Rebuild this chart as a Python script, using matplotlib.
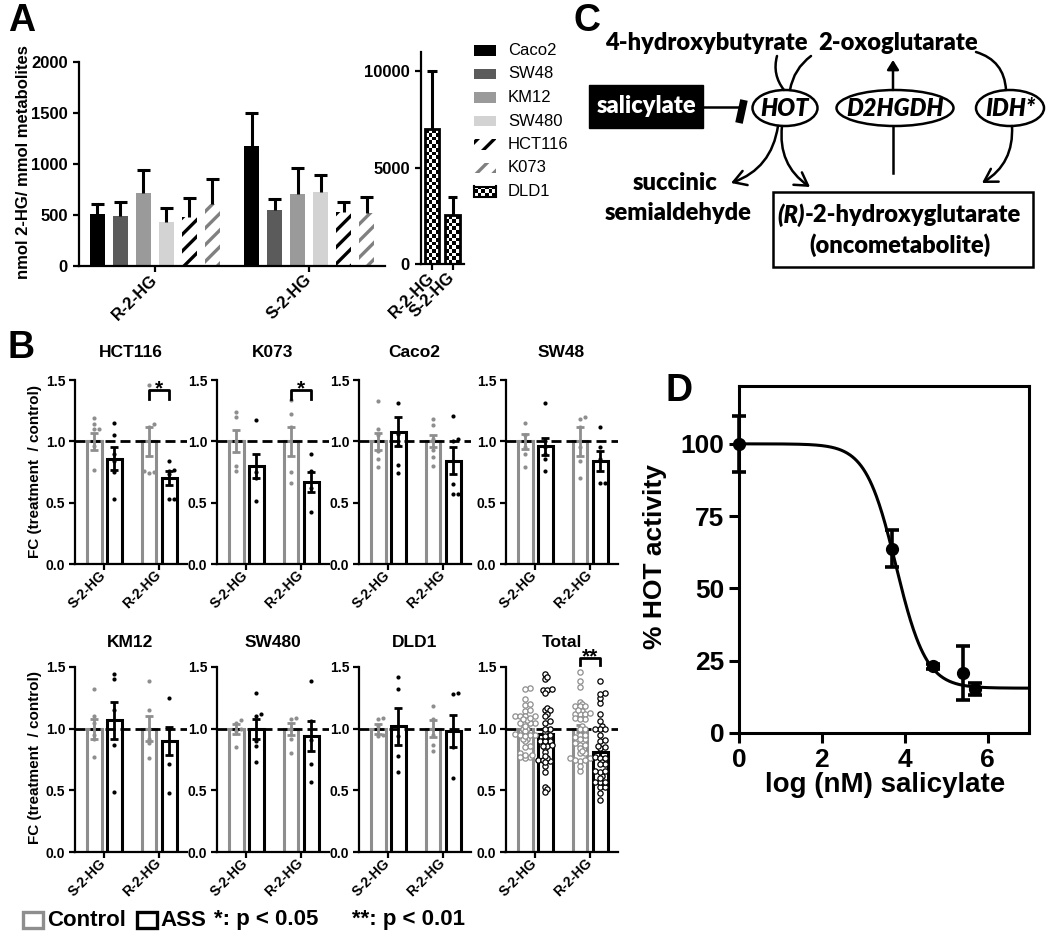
"""Four-panel figure: 2-HG levels, FC per cell line, HOT pathway, salicylate dose response."""

import numpy as np
import matplotlib

matplotlib.use("Agg")
import matplotlib.pyplot as plt
from matplotlib.patches import Rectangle, Ellipse, FancyArrowPatch

plt.rcParams["font.family"] = ["Liberation Sans", "DejaVu Sans"]
plt.rcParams["font.weight"] = "bold"
plt.rcParams["hatch.linewidth"] = 2.4

W, H = 1050, 935

# ---------------- panel A data ----------------
A_LINES = ["Caco2", "SW48", "KM12", "SW480", "HCT116", "K073"]
A_GROUPS = ["R-2-HG", "S-2-HG"]
A_R_MEAN = [513, 493, 716, 435, 480, 605]
A_R_SEM = [92, 131, 222, 134, 183, 251]
A_S_MEAN = [1173, 552, 703, 728, 529, 516]
A_S_SEM = [330, 108, 255, 164, 101, 157]
A_FILL = ["#000000", "#5b5b5b", "#9a9a9a", "#d3d3d3", "white", "white"]
A_HATCH = [None, None, None, None, "//", "//"]
A_HATCH_COLOR = [None, None, None, None, "#000000", "#808080"]

DLD1_GROUPS = ["R-2-HG", "S-2-HG"]
DLD1_MEAN = [7000, 2520]
DLD1_SEM = [3000, 980]

# ---------------- panel B data ----------------
B_LINES = ["HCT116", "K073", "Caco2", "SW48", "KM12", "SW480", "DLD1"]
B_GROUPS = ["S-2-HG", "R-2-HG"]
CTRL_S_MEAN = [1.00, 1.00, 1.00, 1.00, 1.00, 1.00, 1.00]
CTRL_S_SEM = [0.07, 0.09, 0.07, 0.06, 0.08, 0.04, 0.04]
ASS_S_MEAN = [0.86, 0.80, 1.08, 0.96, 1.07, 1.00, 1.02]
ASS_S_SEM = [0.09, 0.10, 0.12, 0.07, 0.15, 0.08, 0.15]
CTRL_R_MEAN = [1.00, 1.00, 1.00, 1.00, 1.00, 1.00, 1.00]
CTRL_R_SEM = [0.12, 0.12, 0.05, 0.12, 0.10, 0.05, 0.07]
ASS_R_MEAN = [0.70, 0.67, 0.84, 0.84, 0.90, 0.94, 0.98]
ASS_R_SEM = [0.06, 0.08, 0.11, 0.08, 0.11, 0.12, 0.13]

CTRL_S_DOTS = {
    "HCT116": [1.19, 1.14, 1.10, 1.10, 0.96, 0.77],
    "K073": [1.24, 1.20, 1.00, 0.80, 0.76],
    "Caco2": [1.33, 1.10, 1.05, 0.92, 0.86, 0.79],
    "SW48": [1.15, 1.05, 0.95, 0.90, 0.79],
    "KM12": [1.32, 1.10, 1.05, 0.95, 0.92, 0.77],
    "SW480": [1.07, 1.05, 1.00, 0.98, 0.85],
    "DLD1": [1.09, 1.08, 1.02, 0.95, 0.94],
}
ASS_S_DOTS = {
    "HCT116": [1.15, 1.05, 0.90, 0.84, 0.75, 0.53],
    "K073": [1.17, 0.75, 0.70, 0.51],
    "Caco2": [1.31, 1.06, 1.00, 0.97, 0.81, 0.74],
    "SW48": [1.31, 1.00, 0.95, 0.90, 0.86, 0.76],
    "KM12": [1.44, 1.40, 1.15, 0.87, 0.49],
    "SW480": [1.29, 1.12, 1.10, 0.90, 0.86, 0.73],
    "DLD1": [1.42, 1.32, 0.94, 0.78, 0.65],
}
CTRL_R_DOTS = {
    "HCT116": [1.46, 1.14, 1.12, 0.76, 0.74, 0.75],
    "K073": [1.34, 1.22, 1.12, 0.75, 0.66],
    "Caco2": [1.18, 1.13, 1.02, 0.93, 0.87, 0.80],
    "SW48": [1.20, 1.18, 1.12, 0.95, 0.84, 0.70],
    "KM12": [1.39, 1.15, 1.00, 0.92, 0.88, 0.76],
    "SW480": [1.09, 1.08, 1.00, 0.92, 0.80],
    "DLD1": [1.18, 1.08, 0.95, 0.87, 0.82],
}
ASS_R_DOTS = {
    "HCT116": [0.84, 0.77, 0.76, 0.73, 0.53, 0.53],
    "K073": [0.90, 0.76, 0.62, 0.42],
    "Caco2": [1.21, 1.02, 1.00, 0.65, 0.57, 0.57],
    "SW48": [1.12, 0.95, 0.86, 0.66, 0.66],
    "KM12": [1.25, 1.00, 0.71, 0.48],
    "SW480": [1.39, 1.06, 0.91, 0.71, 0.57],
    "DLD1": [1.29, 1.28, 1.00, 0.85, 0.60],
}
TOTAL_MEAN = [1.00, 0.96, 1.00, 0.81]   # ctrl S, ASS S, ctrl R, ASS R
TOTAL_SEM = [0.025, 0.04, 0.03, 0.04]
SIG_MARKS = {"HCT116": "*", "K073": "*", "Total": "**"}

# ---------------- panel D data ----------------
D_LOGC = [0.0, 3.69, 4.69, 5.40, 5.70]
D_ACT = [100.0, 63.8, 23.0, 20.7, 15.2]
D_SEM = [9.7, 6.4, 0.8, 9.3, 2.1]
FIT_TOP, FIT_BOTTOM, FIT_LOGIC50, FIT_HILL = 100.0, 15.5, 3.79, 1.19

CTRL_GRAY = "#8e8e8e"

fig = plt.figure(figsize=(W / 100, H / 100), dpi=100)


def axes_px(left, top, right, bottom):
    return fig.add_axes([left / W, 1 - bottom / H, (right - left) / W, (bottom - top) / H])


def fig_text(x, y, s, **kw):
    return fig.text(x / W, 1 - y / H, s, **kw)


def open_axes(ax, lw=1.6, size=10, pad=3.5):
    for side in ("top", "right"):
        ax.spines[side].set_visible(False)
    for side in ("left", "bottom"):
        ax.spines[side].set_linewidth(lw)
    ax.tick_params(width=lw, length=4.5, labelsize=size, pad=pad)
    for lab in ax.get_yticklabels():
        lab.set_fontweight("bold")


def up_errorbar(ax, xs, means, sems, cap_half, lw=2.2):
    xs = np.asarray(xs, dtype=float)
    tops = np.asarray(means, dtype=float) + np.asarray(sems, dtype=float)
    ax.vlines(xs, means, tops, color="black", lw=lw, zorder=3)
    ax.hlines(tops, xs - cap_half, xs + cap_half, color="black", lw=lw, zorder=3)


def checker(nrow, ncol):
    return np.add.outer(np.arange(nrow), np.arange(ncol)) % 2


def swarm(values_px, d, step):
    """Horizontal offsets (px) so dots of diameter d do not overlap."""
    values_px = np.asarray(values_px, dtype=float)
    offs = np.zeros(len(values_px))
    placed = []
    for idx in np.argsort(values_px):
        y = values_px[idx]
        for k in range(60):
            m = (k + 1) // 2
            cand = m * step * (1 if k % 2 else -1)
            if all((cand - px) ** 2 + (y - py) ** 2 >= d * d for px, py in placed):
                break
        offs[idx] = cand
        placed.append((cand, y))
    return offs


# ======================= panel A =======================
A_GROUP_X = [0.0, 6.7]
A_BAR_W = 0.65
axA = axes_px(79, 62, 385, 266)
for i, name in enumerate(A_LINES):
    xs = [g + i - 2.5 for g in A_GROUP_X]
    means = [A_R_MEAN[i], A_S_MEAN[i]]
    sems = [A_R_SEM[i], A_S_SEM[i]]
    if A_HATCH[i]:
        axA.bar(xs, means, A_BAR_W, facecolor="white", edgecolor=A_HATCH_COLOR[i],
                hatch=A_HATCH[i], linewidth=0, zorder=2)
    else:
        axA.bar(xs, means, A_BAR_W, color=A_FILL[i], linewidth=0, zorder=2)
    up_errorbar(axA, xs, means, sems, cap_half=0.27)
axA.set_xlim(-3.3, 10.0)
axA.set_ylim(0, 2000)
axA.set_yticks([0, 500, 1000, 1500, 2000])
axA.set_xticks(A_GROUP_X)
axA.set_xticklabels(A_GROUPS, rotation=45, ha="right", va="center",
                    rotation_mode="anchor", fontsize=10.5, fontweight="bold")
open_axes(axA, size=12)

axA2 = axes_px(421, 52, 464, 264)
DLD1_X = [0.0, 1.0]
D_BAR_W = 0.73
for x, h in zip(DLD1_X, DLD1_MEAN):
    nrow = int(round(h / 195))
    axA2.imshow(checker(nrow, 4), cmap="gray_r", vmin=0, vmax=1, origin="lower",
                extent=(x - D_BAR_W / 2, x + D_BAR_W / 2, 0, h), aspect="auto",
                interpolation="nearest", zorder=1)
axA2.bar(DLD1_X, DLD1_MEAN, D_BAR_W, facecolor="none", edgecolor="black", linewidth=2, zorder=2)
up_errorbar(axA2, DLD1_X, DLD1_MEAN, DLD1_SEM, cap_half=0.24)
axA2.set_xlim(-0.537, 1.56)
axA2.set_ylim(0, 11000)
axA2.set_yticks([0, 5000, 10000])
axA2.set_xticks(DLD1_X)
axA2.set_xticklabels(DLD1_GROUPS, rotation=45, ha="right", va="center",
                     rotation_mode="anchor", fontsize=10.5, fontweight="bold")
open_axes(axA2, size=12)

# legend for A
for i, name in enumerate(A_LINES + ["DLD1"]):
    yc = 50.5 + 23.5 * i
    if name == "DLD1":
        lax = axes_px(474, yc - 5, 496, yc + 5)
        lax.imshow(checker(3, 6), cmap="gray_r", vmin=0, vmax=1, aspect="auto",
                   interpolation="nearest")
        lax.set_xticks([])
        lax.set_yticks([])
        for sp in lax.spines.values():
            sp.set_linewidth(1.5)
    else:
        kw = dict(facecolor=A_FILL[i], edgecolor="none", linewidth=0)
        if A_HATCH[i]:
            kw = dict(facecolor="white", edgecolor=A_HATCH_COLOR[i], hatch=A_HATCH[i], linewidth=0)
        fig.add_artist(Rectangle((474 / W, 1 - (yc + 5) / H), 22 / W, 10 / H,
                                 transform=fig.transFigure, **kw))
    fig_text(508, yc, name, fontsize=12, fontweight="normal", va="center", ha="left")

fig_text(24, 162, "nmol 2-HG/ mmol metabolites", rotation=90, fontsize=12,
         ha="center", va="center")

# ======================= panel B =======================
B_COL_S_X = [104, 246, 388, 535]
B_ROWS = [(380, 564), (667, 852)]
B_OFF = [-0.182, 0.182, 0.818, 1.182]
B_BAR_W = 15 / 55
for k, name in enumerate(B_LINES + ["Total"]):
    r, c = divmod(k, 4)
    top, bottom = B_ROWS[r]
    left = B_COL_S_X[c] - 29.5
    ax = axes_px(left, top, left + 112, bottom)
    ypx = (bottom - top) / 1.5
    if name == "Total":
        means = TOTAL_MEAN
        sems = TOTAL_SEM
        dots = [sum((d[n] for n in B_LINES), []) for d in (CTRL_S_DOTS, ASS_S_DOTS, CTRL_R_DOTS, ASS_R_DOTS)]
    else:
        j = B_LINES.index(name)
        means = [CTRL_S_MEAN[j], ASS_S_MEAN[j], CTRL_R_MEAN[j], ASS_R_MEAN[j]]
        sems = [CTRL_S_SEM[j], ASS_S_SEM[j], CTRL_R_SEM[j], ASS_R_SEM[j]]
        dots = [CTRL_S_DOTS[name], ASS_S_DOTS[name], CTRL_R_DOTS[name], ASS_R_DOTS[name]]
    for q in range(4):
        col = CTRL_GRAY if q % 2 == 0 else "black"
        x = B_OFF[q]
        ax.bar(x, means[q], B_BAR_W, facecolor="white", edgecolor=col, linewidth=2.2, zorder=2)
        ax.errorbar(x, means[q], yerr=sems[q], fmt="none", ecolor=col, elinewidth=2,
                    capsize=3, capthick=2, zorder=4)
        vals = np.asarray(dots[q])
        if name == "Total":
            offs = swarm(vals * ypx, 3.2, 2.4) / 55
            ax.plot(x + offs, vals, "o", ms=3.8, mfc="white", mec=col, mew=0.9,
                    zorder=5, clip_on=False)
        else:
            offs = swarm(vals * ypx, 3.6, 2.6) / 55
            ax.plot(x + offs, vals, "o", ms=3.0, color=col, mew=0, zorder=5, clip_on=False)
    ax.axhline(1.0, color="black", lw=2, ls=(0, (3.6, 1.8)), zorder=3)
    ax.set_xlim(-0.537, 1.5)
    ax.set_ylim(0, 1.5)
    ax.set_yticks([0, 0.5, 1.0, 1.5])
    ax.set_yticklabels(["0.0", "0.5", "1.0", "1.5"])
    ax.set_xticks([0, 1])
    ax.set_xticklabels(B_GROUPS, rotation=45, ha="right", va="center",
                       rotation_mode="anchor", fontsize=9, fontweight="bold")
    open_axes(ax, lw=1.6, size=10, pad=2)
    title_y = 1.147 if r == 0 else 1.135
    ax.text(0.5, title_y, name, transform=ax.transAxes, ha="center", va="center",
            fontsize=12.5, fontweight="bold")
    if name in SIG_MARKS:
        if name == "Total":
            lo, hi = 1.52, 1.575
        else:
            lo, hi = 1.345, 1.42
        ax.plot([B_OFF[2], B_OFF[2], B_OFF[3], B_OFF[3]], [lo, hi, hi, lo], color="black",
                lw=2, clip_on=False, zorder=6)
        ax.text((B_OFF[2] + B_OFF[3]) / 2, hi - 0.035, SIG_MARKS[name], ha="center",
                va="baseline", fontsize=15, fontweight="bold", clip_on=False)

fig_text(35, 471, "FC (treatment  / control)", rotation=90, fontsize=11, ha="center", va="center")
fig_text(35, 758, "FC (treatment  / control)", rotation=90, fontsize=11, ha="center", va="center")

# bottom legend for B
fig.add_artist(Rectangle((23 / W, 1 - 928 / H), 20 / W, 16 / H, transform=fig.transFigure,
                         facecolor="white", edgecolor=CTRL_GRAY, linewidth=2.4))
fig_text(47, 920, "Control", fontsize=16, ha="left", va="center")
fig.add_artist(Rectangle((137 / W, 1 - 928 / H), 20 / W, 16 / H, transform=fig.transFigure,
                         facecolor="white", edgecolor="black", linewidth=2.4))
fig_text(160, 920, "ASS", fontsize=16, ha="left", va="center")
fig_text(214, 920, "*: p < 0.05", fontsize=16, ha="left", va="center")
fig_text(352, 920, "**: p < 0.01", fontsize=16, ha="left", va="center")

# ======================= panel C =======================
axC = axes_px(540, 0, 1050, 300)
axC.set_xlim(540, 1050)
axC.set_ylim(300, 0)
axC.axis("off")
CF = ["Lato", "DejaVu Sans"]
ctext = dict(family=CF, fontweight="heavy", fontsize=17, ha="center", va="center")
axC.text(706, 43, "4-hydroxybutyrate", **ctext)
axC.text(898, 43, "2-oxoglutarate", **ctext)
axC.text(675, 183, "succinic", **ctext)
axC.text(678, 213, "semialdehyde", **ctext)
axC.add_patch(Rectangle((589, 85), 114, 43, facecolor="black", edgecolor="black"))
axC.text(646, 106, "salicylate", family=CF, fontweight="heavy", fontsize=17, color="white",
         ha="center", va="center")
for cx, w, lab in ((785, 65, "HOT"), (895, 117, "D2HGDH"), (1010, 68, "IDH*")):
    axC.add_patch(Ellipse((cx, 108), w, 36, fill=False, lw=1.8, edgecolor="black"))
    axC.text(cx, 108, lab, family=CF, fontweight="heavy", style="italic", fontsize=17,
             ha="center", va="center")
axC.add_patch(Rectangle((773, 192), 260, 75, fill=False, lw=1.8, edgecolor="black"))

r_it = axC.text(0, 215, "(R)", family=CF, fontweight="heavy", style="italic", fontsize=17,
                ha="left", va="center")
r_rest = axC.text(0, 215, "-2-hydroxyglutarate", family=CF, fontweight="heavy", fontsize=17,
                  ha="left", va="center")
axC.text(900, 245, "(oncometabolite)", **ctext)
renderer = fig.canvas.get_renderer()
w1 = r_it.get_window_extent(renderer).width
w2 = r_rest.get_window_extent(renderer).width
x0 = 899 - (w1 + w2) / 2
r_it.set_x(x0)
r_rest.set_x(x0 + w1)

# inhibition of HOT by salicylate
axC.plot([704, 739], [107, 107], color="black", lw=1.8)
axC.plot([739, 744], [123, 100], color="black", lw=5.5, solid_capstyle="butt")


def c_arrow(p0, p1, rad, head=True):
    style = "->,head_length=0.5,head_width=0.3" if head else "-"
    axC.add_patch(FancyArrowPatch(p0, p1, connectionstyle=f"arc3,rad={rad}", arrowstyle=style,
                                  mutation_scale=18, lw=1.8, color="black",
                                  shrinkA=0, shrinkB=0))


c_arrow((777, 56), (784, 90), 0.25, head=False)
c_arrow((811, 56), (790, 90), 0.2, head=False)
c_arrow((976, 52), (1006, 90), -0.35, head=False)
axC.add_patch(FancyArrowPatch((893, 90), (893, 60), arrowstyle="-|>,head_length=0.4,head_width=0.25",
                              mutation_scale=14, lw=1.8, color="black", shrinkA=0, shrinkB=0))
axC.plot([893, 893], [126, 173], color="black", lw=1.8)
c_arrow((778, 126), (731, 183), -0.3)
c_arrow((782, 126), (810, 187), 0.3)
c_arrow((1012, 126), (982, 183), -0.3)

# ======================= panel D =======================
axD = axes_px(739, 386, 1029, 733)
xfit = np.linspace(0, 7, 400)
yfit = FIT_BOTTOM + (FIT_TOP - FIT_BOTTOM) / (1 + 10 ** ((xfit - FIT_LOGIC50) * FIT_HILL))
axD.plot(xfit, yfit, color="black", lw=2.2)
cont = axD.errorbar(D_LOGC, D_ACT, yerr=D_SEM, fmt="o", color="black", ms=8.5,
                    elinewidth=2.6, capsize=5, capthick=2.6, zorder=3)
for art in cont.get_children():
    art.set_clip_on(False)
axD.set_xlim(0, 7)
axD.set_ylim(0, 120)
axD.set_xticks([0, 2, 4, 6])
axD.set_yticks([0, 25, 50, 75, 100])
for sp in axD.spines.values():
    sp.set_linewidth(2.2)
axD.tick_params(width=2.2, length=7, labelsize=19)
for lab in axD.get_xticklabels() + axD.get_yticklabels():
    lab.set_fontweight("bold")
fig_text(885, 785, "log (nM) salicylate", fontsize=20, ha="center", va="center")
fig_text(655, 557, "% HOT activity", rotation=90, fontsize=19, ha="center", va="center")

# panel letters
for x, y, s in ((22, 21, "A"), (21, 348, "B"), (587, 21, "C"), (679, 391, "D")):
    fig_text(x, y, s, fontsize=27, fontweight="bold", ha="center", va="center")

fig.savefig("out.png", dpi=100)
